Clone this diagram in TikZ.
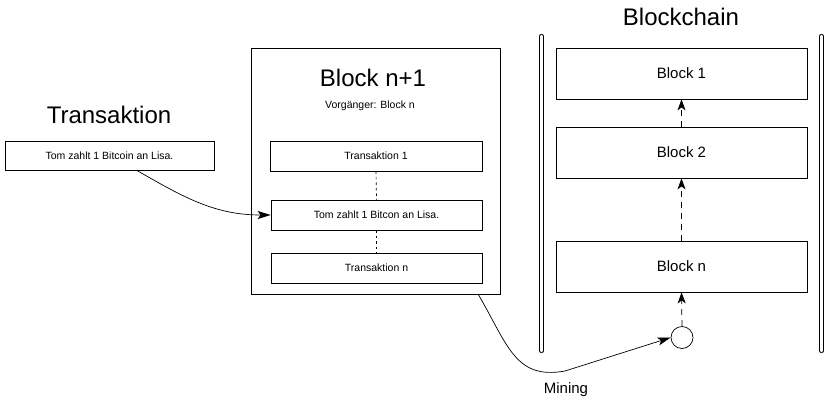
\documentclass[tikz,border=0pt]{standalone}
\usepackage{fontspec}
\setmainfont{Liberation Sans}
\usetikzlibrary{arrows.meta}
\begin{document}
\begin{tikzpicture}[x=1pt,y=-1pt,
  box/.style={draw, line width=0.8pt, inner sep=0pt, rectangle},
  smalltxt/.style={font=\fontsize{10.5}{12}\selectfont},
  midtxt/.style={font=\fontsize{15}{18}\selectfont},
  bigtxt/.style={font=\fontsize{24}{28}\selectfont},
  arr/.style={line width=0.7pt, -{Stealth[length=13pt,width=8pt,inset=3pt]}},
  dasharr/.style={line width=0.7pt, dash pattern=on 6pt off 5pt, -{Stealth[length=11pt,width=8pt,inset=3pt]}},
  dotline/.style={line width=0.7pt, dash pattern=on 2.5pt off 3pt},
  rail/.style={double, line width=0.8pt, double distance=2.6pt, line cap=round}
]
\useasboundingbox (0,0) rectangle (825,400);

% left: transaction
\node[bigtxt] (ttitle) at (109,115) {Transaktion};
\node[box, smalltxt, minimum width=209pt, minimum height=29pt] (tx) at (109.5,155.5) {Tom zahlt 1 Bitcoin an Lisa.};

% middle: Block n+1
\node[box, minimum width=249pt, minimum height=246pt] (bnp) at (375.5,171) {};
\node[bigtxt] (bnptitle) at (373,78) {Block n+1};
\node[smalltxt] (prev) at (370,106) {Vorgänger: Block n};
\node[box, smalltxt, minimum width=212pt, minimum height=30pt] (t1) at (376,156) {Transaktion 1};
\node[box, smalltxt, minimum width=211pt, minimum height=30pt] (tom) at (376.5,215) {Tom zahlt 1 Bitcon an Lisa.};
\node[box, smalltxt, minimum width=211pt, minimum height=30pt] (tn) at (376.5,268) {Transaktion n};
\draw[dotline] (t1.south) -- (tom.north);
\draw[dotline] (tom.south) -- (tn.north);

% right: blockchain
\node[bigtxt] (bctitle) at (681,17) {Blockchain};
\coordinate (lrt) at (541.5,36);
\coordinate (lrb) at (541.5,351);
\coordinate (rrt) at (821.5,36);
\coordinate (rrb) at (821.5,351);
\draw[rail] (lrt) -- (lrb);
\draw[rail] (rrt) -- (rrb);
\node[box, midtxt, minimum width=251pt, minimum height=51pt] (b1) at (681.5,73.5) {Block 1};
\node[box, midtxt, minimum width=251pt, minimum height=51pt] (b2) at (681.5,152.5) {Block 2};
\node[box, midtxt, minimum width=251pt, minimum height=51pt] (bn) at (681.5,266.5) {Block n};
\node[draw, circle, line width=0.7pt, minimum size=22pt, inner sep=0pt] (c) at (682,337.5) {};
\draw[dasharr] (b2.north) -- (b1.south);
\draw[dasharr] (bn.north) -- (b2.south);
\draw[dasharr] (c.north) -- (bn.south);

% connectors
\coordinate (txs) at (137,170.5);
\draw[arr] (txs) to[out=-30, in=180] (tom.west);
\coordinate (bnps) at (478,294);
\draw[arr] (bnps) .. controls (508,345) and (515,380) .. (565,371) -- (c.west);
\node[midtxt] (mining) at (566,390) {Mining};
\end{tikzpicture}
\end{document}
